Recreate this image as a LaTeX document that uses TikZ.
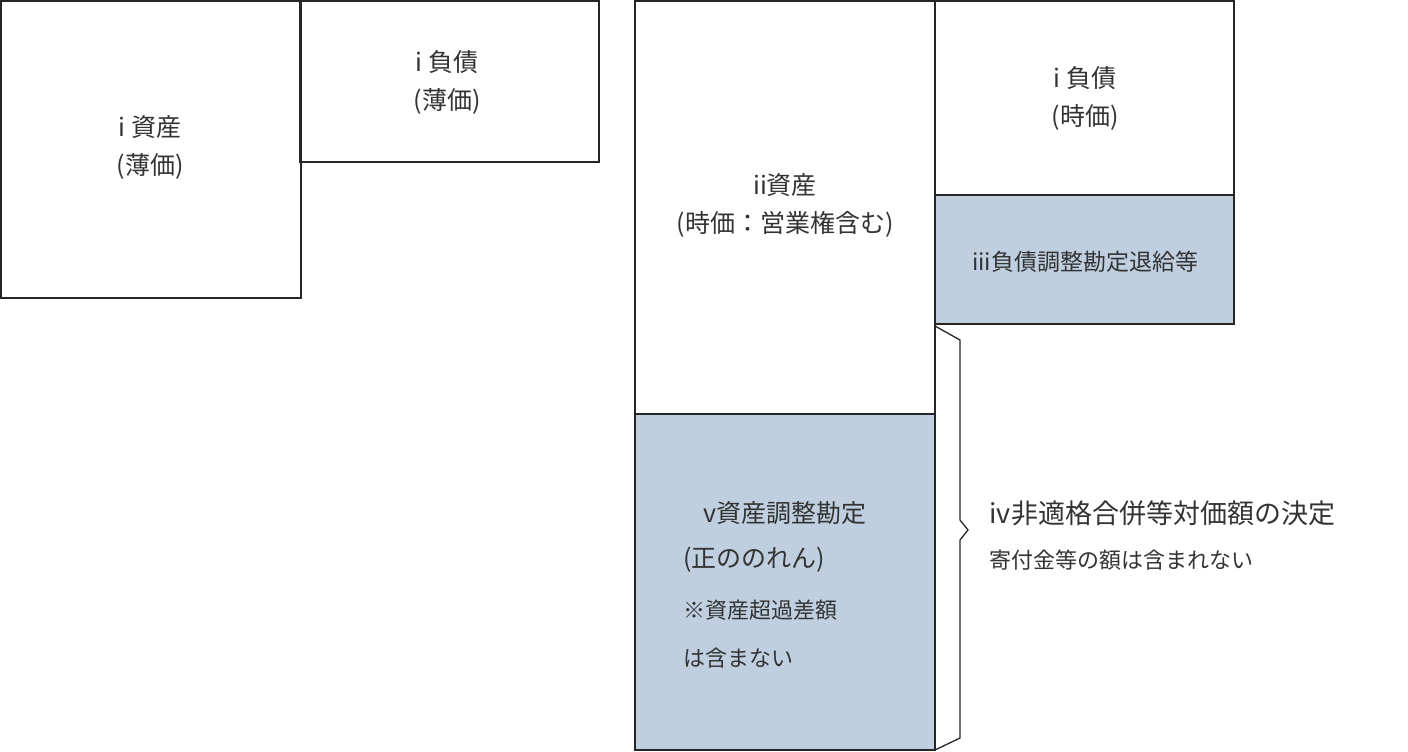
\documentclass[tikz,border=0pt]{standalone}
\usepackage{fontspec}
\setmainfont{Noto Sans CJK JP}
\definecolor{fillb}{HTML}{BFCFE0}
\definecolor{txt}{HTML}{333333}
\begin{document}
\begin{tikzpicture}[x=1pt,y=-1pt,
  bx/.style={draw=black!85,line width=1.3pt},
  lbl/.style={text=txt,font=\fontsize{25}{38}\selectfont,align=center},
  sm/.style={text=txt,font=\fontsize{22}{30}\selectfont,anchor=west}]
\useasboundingbox (0,0) rectangle (1408,752);
\draw[bx] (1,1) rectangle (301,298);
\draw[bx] (300,1) rectangle (599,162);
\draw[bx] (635,1) rectangle (935,414);
\draw[bx] (935,1) rectangle (1234,195);
\draw[bx,fill=fillb] (935,195) rectangle (1234,324);
\draw[bx,fill=fillb] (635,414) rectangle (935,750);
\node[lbl] (a) at (150,147) {i 資産\\(薄価)};
\node[lbl] (b) at (447,82) {i 負債\\(薄価)};
\node[lbl] (c) at (785,205) {ii資産\\(時価：営業権含む)};
\node[lbl] (d) at (1085,98) {i 負債\\(時価)};
\node[text=txt,font=\fontsize{23}{30}\selectfont] (e) at (1085,262) {iii負債調整勘定退給等};
\node[lbl] (f1) at (785,513) {v資産調整勘定};
\node[lbl,anchor=west] (f2) at (680,560) {(正ののれん)};
\node[sm] (f3) at (680,610) {※資産超過差額};
\node[sm] (f4) at (680,658) {は含まない};
\draw[line width=1.3pt,black!85,line join=miter] (935,326)--(960,340)--(960,520)--(968,530)--(960,540)--(960,738)--(935,750);
\node[text=txt,font=\fontsize{27}{34}\selectfont,anchor=west] (g) at (986,513) {iv非適格合併等対価額の決定};
\node[sm] (h) at (986,560) {寄付金等の額は含まれない};
\end{tikzpicture}
\end{document}
